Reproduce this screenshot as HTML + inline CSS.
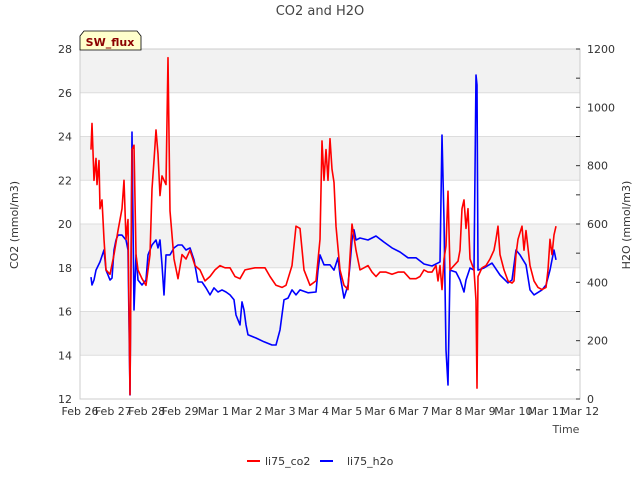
<!DOCTYPE html>
<html><head><meta charset="utf-8"><style>
body{margin:0;background:#fff;font-family:"Liberation Sans",sans-serif}
text{font-family:"DejaVu Sans","Liberation Sans",sans-serif}
</style></head><body>
<svg id="chart" width="640" height="480" xmlns="http://www.w3.org/2000/svg">
<text x="320" y="15" text-anchor="middle" font-size="13" fill="#444">CO2 and H2O</text>
<g id="bands"></g><g id="grid"></g>
<rect x="80" y="49" width="500" height="350" fill="none" stroke="#ccc"/>
<g id="axes"></g><g id="series"></g>
<g>
<path d="M80,50 L80,36 L84,31 L137,31 L141,36 L141,50 Z" fill="#ffffcc" stroke="#000" stroke-width="0.8"/>
<text x="110" y="46" text-anchor="middle" font-size="11" font-weight="bold" fill="#8b0000">SW_flux</text></g>
<text transform="translate(18,225) rotate(-90)" text-anchor="middle" font-size="11" fill="#333">CO2 (mmol/m3)</text>
<text transform="translate(630,225) rotate(-90)" text-anchor="middle" font-size="11" fill="#333">H2O (mmol/m3)</text>
<text x="566" y="433" text-anchor="middle" font-size="11" fill="#444">Time</text>
<g>
<line x1="247" y1="461" x2="260" y2="461" stroke="#f00" stroke-width="2"/><text x="265" y="465" font-size="11" fill="#333">li75_co2</text>
<line x1="320" y1="461" x2="333" y2="461" stroke="#00f" stroke-width="2"/><text x="347" y="465" font-size="11" fill="#333">li75_h2o</text></g>
</svg>
<script>
const xLabels=["Feb 26","Feb 27","Feb 28","Feb 29","Mar 1","Mar 2","Mar 3","Mar 4","Mar 5","Mar 6","Mar 7","Mar 8","Mar 9","Mar 10","Mar 11","Mar 12"];
const leftTicks=[12,14,16,18,20,22,24,26,28];
const rightTicks=[0,200,400,600,800,1000,1200];
const co2Time=[.33,.36,.42,.48,.51,.57,.60,.66,.72,.78,.90,1.02,1.14,1.26,1.32,1.38,1.44,1.50,1.56,1.62,1.68,1.74,1.86,1.98,2.10,2.16,2.22,2.28,2.34,2.40,2.46,2.58,2.64,2.70,2.82,2.94,3.06,3.18,3.30,3.45,3.60,3.75,3.90,4.05,4.20,4.35,4.50,4.65,4.80,4.95,5.25,5.55,5.70,5.88,6.06,6.18,6.36,6.48,6.60,6.72,6.90,7.08,7.20,7.26,7.32,7.38,7.44,7.50,7.56,7.62,7.68,7.80,7.92,8.04,8.16,8.28,8.40,8.52,8.64,8.76,8.88,9.00,9.18,9.36,9.54,9.72,9.90,10.08,10.20,10.32,10.44,10.56,10.68,10.74,10.80,10.86,10.92,10.98,11.04,11.10,11.22,11.34,11.40,11.46,11.52,11.58,11.64,11.70,11.82,11.88,11.91,11.94,12.06,12.18,12.30,12.42,12.48,12.54,12.60,12.72,12.84,12.96,13.02,13.08,13.14,13.20,13.26,13.32,13.38,13.50,13.62,13.74,13.86,13.98,14.04,14.10,14.16,14.22,14.28];
const co2Values=[23.4,24.6,22.0,23.0,21.8,22.9,20.7,21.1,19.3,17.9,17.7,18.6,19.7,20.7,22.0,19.3,20.2,12.2,23.4,23.6,18.6,17.9,17.5,17.2,18.6,21.6,22.9,24.3,23.2,21.3,22.2,21.8,27.6,20.6,18.4,17.5,18.6,18.4,18.8,18.1,17.9,17.4,17.6,17.9,18.1,18.0,18.0,17.6,17.5,17.9,18.0,18.0,17.6,17.2,17.1,17.2,18.1,19.9,19.8,17.9,17.2,17.4,19.3,23.8,22.0,23.4,22.0,23.9,22.5,21.9,19.9,17.9,17.2,17.0,20.0,18.8,17.9,18.0,18.1,17.8,17.6,17.8,17.8,17.7,17.8,17.8,17.5,17.5,17.6,17.9,17.8,17.8,18.1,17.4,18.1,17.0,18.4,19.0,21.5,17.9,18.1,18.3,18.8,20.7,21.1,19.8,20.7,18.4,17.9,16.5,12.5,17.6,18.0,18.1,18.4,18.8,19.3,19.9,18.6,17.9,17.4,17.3,17.4,18.6,19.3,19.6,19.9,18.8,19.7,18.1,17.4,17.1,17.0,17.1,17.9,19.3,18.6,19.5,19.9];
const h2oTime=[.33,.36,.42,.48,.60,.72,.78,.84,.90,.96,1.02,1.08,1.14,1.26,1.38,1.44,1.50,1.56,1.62,1.68,1.74,1.86,1.98,2.04,2.16,2.28,2.34,2.40,2.46,2.52,2.58,2.70,2.82,2.94,3.06,3.18,3.30,3.42,3.54,3.66,3.78,3.90,4.02,4.14,4.26,4.38,4.50,4.62,4.68,4.80,4.86,4.92,4.98,5.04,5.28,5.52,5.76,5.88,6.00,6.12,6.24,6.36,6.48,6.60,6.84,7.08,7.14,7.20,7.32,7.50,7.62,7.74,7.80,7.92,8.04,8.10,8.16,8.22,8.28,8.40,8.64,8.88,9.12,9.36,9.60,9.84,10.08,10.32,10.56,10.80,10.86,10.92,10.98,11.04,11.10,11.28,11.40,11.52,11.58,11.70,11.82,11.88,11.91,11.94,12.12,12.36,12.60,12.84,12.96,13.08,13.20,13.38,13.50,13.62,13.86,13.98,14.10,14.16,14.22,14.28];
const h2oValues=[418,391,408,442,470,511,442,425,408,415,511,545,562,562,545,511,14,915,305,494,408,391,408,494,528,545,518,545,460,357,494,494,518,528,528,511,518,477,401,401,381,357,381,367,374,367,357,340,288,254,333,305,254,220,209,196,185,185,237,340,346,374,357,374,364,367,442,494,460,460,442,484,425,346,391,460,545,580,545,552,545,559,538,518,504,484,484,463,456,470,905,614,168,48,442,435,408,367,408,449,442,1111,1077,442,449,466,425,398,408,511,494,460,374,357,374,391,442,477,511,477];
const NS="http://www.w3.org/2000/svg";
const X0=80,X1=580,Y0=399,Y1=49;
const xs=d=>X0+d*(X1-X0)/15;
const yL=v=>Y0-(v-12)*(Y0-Y1)/16;
const yR=v=>Y0-v*(Y0-Y1)/1200;
function mk(tag,attrs,parent){const e=document.createElementNS(NS,tag);for(const k in attrs)e.setAttribute(k,attrs[k]);parent.appendChild(e);return e;}
const bands=document.getElementById('bands'),grid=document.getElementById('grid'),axes=document.getElementById('axes'),series=document.getElementById('series');
for(let i=0;i<leftTicks.length-1;i++){
  if(i%2===1){const b=mk('rect',{x:X0,y:yL(leftTicks[i+1]),width:X1-X0,height:yL(leftTicks[i])-yL(leftTicks[i+1]),fill:'#f2f2f2'},bands);
  
  }
}
leftTicks.forEach(v=>{
  const g=mk('line',{x1:X0,x2:X1,y1:yL(v),y2:yL(v),stroke:'#ddd'},grid);
  
  
  const t=mk('text',{x:72,y:yL(v)+4,'text-anchor':'end','font-size':11,fill:'#333'},axes);t.textContent=v;
  
  
});
rightTicks.forEach(v=>{
  const t=mk('text',{x:587,y:yR(v)+4,'font-size':11,fill:'#333'},axes);t.textContent=v;
  
  
  mk('line',{x1:X1,x2:X1-4,y1:yR(v),y2:yR(v),stroke:'#333'},axes);
  if(v<1200)mk('line',{x1:X1,x2:X1-4,y1:yR(v+100),y2:yR(v+100),stroke:'#333'},axes);
});
xLabels.forEach((l,i)=>{
  const t=mk('text',{x:xs(i),y:415,'text-anchor':'middle','font-size':11,fill:'#333'},axes);t.textContent=l;
  
  
});
function line(ts,vs,yf,col,name){
  const p=mk('polyline',{points:ts.map((t,i)=>xs(t).toFixed(1)+','+yf(vs[i]).toFixed(1)).join(' '),fill:'none',stroke:col,'stroke-width':1.6,'stroke-linejoin':'round'},series);
  
  
}
line(h2oTime,h2oValues,yR,'#0000ff','h2o-line');
line(co2Time,co2Values,yL,'#ff0000','co2-line');
</script>
</body></html>
